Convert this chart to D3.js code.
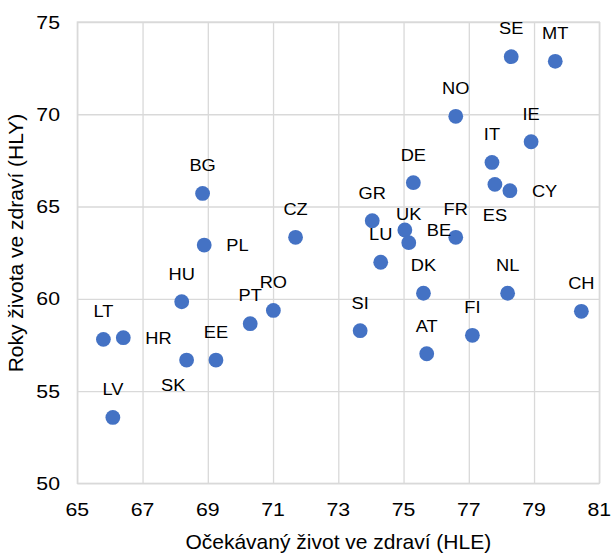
<!DOCTYPE html>
<html>
<head>
<meta charset="utf-8">
<script src="https://cdn.jsdelivr.net/npm/d3@7"></script>
<style>
  html, body { margin: 0; padding: 0; background: #fff; }
  svg { display: block; font-family: "Liberation Sans", Arial, sans-serif; }
</style>
</head>
<body>
<svg id="chart" width="611" height="554"></svg>
<script>
// ---- data ----
const countries = ["SE","MT","NO","IE","IT","ES","CY","DE","GR","BE","UK","LU","FR","BG","PL","CZ","DK","NL","CH","SI","AT","FI","HU","RO","PT","LT","HR","SK","EE","LV"];
const hle = [78.30,79.65,76.60,78.91,77.71,77.80,78.26,75.30,74.04,75.04,75.16,74.30,76.60,68.84,68.89,71.69,75.61,78.19,80.45,73.67,75.71,77.11,68.20,71.01,70.30,65.80,66.41,68.35,69.25,66.09];
const hly = [73.12,72.87,69.89,68.51,67.39,66.20,65.86,66.29,64.23,63.73,63.04,61.98,63.33,65.71,62.91,63.33,60.30,60.30,59.32,58.27,57.02,58.02,59.84,59.37,58.65,57.80,57.89,56.68,56.68,53.57];
const xTicks = [65,67,69,71,73,75,77,79,81];
const yTicks = [50,55,60,65,70,75];
const xTitle = "Očekávaný život ve zdraví (HLE)";
const yTitle = "Roky života ve zdraví (HLY)";
// label placement (style only)
const labelPlacement = {CY:"right", PL:"right", HR:"right", BE:"right", ES:"below", SK:"belowLeft"};

// ---- layout ----
const svg = d3.select("#chart");
const L = 77.3, R = 599.3, T = 22, B = 483.3;
const x = d3.scaleLinear().domain([65, 81]).range([L, R]);
const y = d3.scaleLinear().domain([50, 75]).range([B, T]);
const gridColor = "#d9d9d9";

function stretch(sel, sx) {
  sel.each(function() {
    const t = d3.select(this);
    const tx = +t.attr("x") || 0, ty = +t.attr("y") || 0;
    t.attr("x", 0).attr("y", 0)
     .attr("transform", `translate(${tx},${ty}) scale(${sx},1)`);
  });
}

// gridlines via axes
svg.append("g")
  .attr("transform", `translate(0,${B})`)
  .call(d3.axisBottom(x).tickValues(xTicks).tickSize(-(B - T)).tickFormat(""))
  .call(g => g.select(".domain").remove())
  .call(g => g.selectAll("line").attr("stroke", gridColor).attr("stroke-width", 1.3));
svg.append("g")
  .attr("transform", `translate(${L},0)`)
  .call(d3.axisLeft(y).tickValues(yTicks).tickSize(-(R - L)).tickFormat(""))
  .call(g => g.select(".domain").remove())
  .call(g => g.selectAll("line").attr("stroke", gridColor).attr("stroke-width", 1.3));

// border
svg.append("rect").attr("x", L).attr("y", T).attr("width", R - L).attr("height", B - T)
  .attr("fill", "none").attr("stroke", gridColor).attr("stroke-width", 1.3);

// tick labels
const tickSize = 18.5, tickSx = 1.15;
svg.append("g").selectAll("text").data(xTicks).join("text")
  .attr("x", d => x(d)).attr("y", 516)
  .attr("text-anchor", "middle").attr("font-size", tickSize).attr("fill", "#000")
  .text(d => d)
  .call(stretch, tickSx);
svg.append("g").selectAll("text").data(yTicks).join("text")
  .attr("x", 60).attr("y", d => y(d) + 6.6)
  .attr("text-anchor", "end").attr("font-size", tickSize).attr("fill", "#000")
  .text(d => d)
  .call(stretch, tickSx);

// axis titles
svg.append("text").attr("x", (L + R) / 2).attr("y", 549)
  .attr("text-anchor", "middle").attr("font-size", 21).attr("fill", "#000")
  .text(xTitle);
svg.append("text")
  .attr("transform", `translate(23,243) rotate(-90)`)
  .attr("text-anchor", "middle").attr("font-size", 21).attr("fill", "#000")
  .text(yTitle);

// points
const data = countries.map((c, i) => ({c, hle: hle[i], hly: hly[i]}));
svg.append("g").selectAll("circle").data(data).join("circle")
  .attr("cx", d => x(d.hle)).attr("cy", d => y(d.hly)).attr("r", 7.4)
  .attr("fill", "#4472c4");

// labels
const labelSize = 16.3, labelSx = 1.12;
svg.append("g").selectAll("text").data(data).join("text")
  .each(function(d) {
    const p = labelPlacement[d.c] || "above";
    const cx = x(d.hle), cy = y(d.hly);
    const t = d3.select(this);
    if (p === "right") t.attr("x", cx + 22).attr("y", cy + 5.9).attr("text-anchor", "start");
    else if (p === "below") t.attr("x", cx).attr("y", cy + 36.5).attr("text-anchor", "middle");
    else if (p === "belowLeft") t.attr("x", cx - 13.4).attr("y", cy + 30.8).attr("text-anchor", "middle");
    else t.attr("x", cx).attr("y", cy - 22.2).attr("text-anchor", "middle");
  })
  .attr("font-size", labelSize).attr("fill", "#000")
  .text(d => d.c)
  .call(stretch, labelSx);
</script>
</body>
</html>
